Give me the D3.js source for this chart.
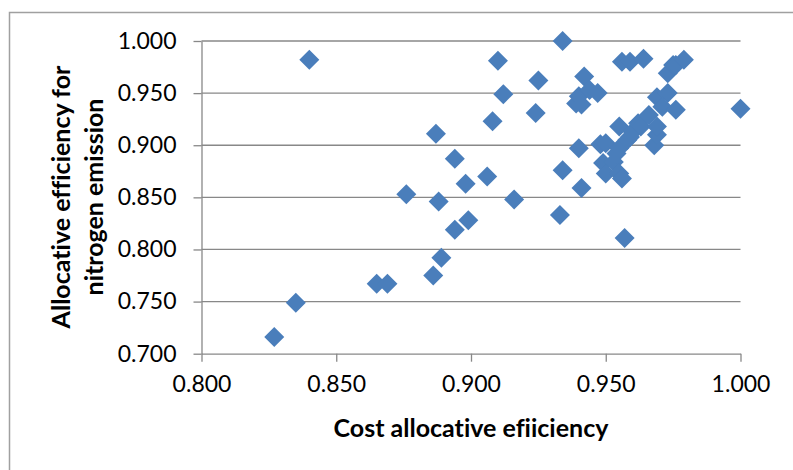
<!DOCTYPE html>
<html>
<head>
<meta charset="utf-8">
<script src="https://cdn.jsdelivr.net/npm/d3@7"></script>
<style>
  body { margin: 0; background: #fff; }
  text { font-family: Lato, "Open Sans", sans-serif; fill: #000; font-variant-ligatures: none; }
</style>
</head>
<body>
<div class="chart-area"></div>
<script>
// Cost allocative efficiency (x) vs allocative efficiency for nitrogen emission (y)
var costAE = [0.827, 0.835, 0.865, 0.869, 0.876, 0.886, 0.889, 0.894, 0.888, 0.899,
    0.898, 0.894, 0.887, 0.840, 0.906, 0.908, 0.910, 0.912, 0.916, 0.924,
    0.925, 0.933, 0.934, 0.934, 0.940, 0.941, 0.942, 0.939, 0.940, 0.941,
    0.944, 0.947, 0.948, 0.950, 0.949, 0.950, 0.953, 0.954, 0.955, 0.956,
    0.957, 0.955, 0.955, 0.958, 0.960, 0.959, 0.962, 0.963, 0.956, 0.959,
    0.964, 0.966, 0.968, 0.969, 0.969, 0.969, 0.973, 0.973, 0.975, 0.976,
    0.979, 0.971, 0.976, 1.000];
var nitrogenAE = [0.716, 0.749, 0.767, 0.767, 0.853, 0.775, 0.792, 0.819, 0.846, 0.828,
    0.863, 0.887, 0.911, 0.982, 0.870, 0.923, 0.981, 0.949, 0.848, 0.931,
    0.962, 0.833, 0.876, 1.000, 0.897, 0.859, 0.966, 0.940, 0.947, 0.939,
    0.953, 0.950, 0.901, 0.902, 0.883, 0.873, 0.884, 0.892, 0.873, 0.868,
    0.811, 0.918, 0.897, 0.905, 0.913, 0.908, 0.921, 0.918, 0.980, 0.980,
    0.983, 0.929, 0.900, 0.910, 0.918, 0.946, 0.950, 0.969, 0.977, 0.977,
    0.982, 0.937, 0.934, 0.935];
var xTicks = [0.80, 0.85, 0.90, 0.95, 1.00];
var yTicks = [0.70, 0.75, 0.80, 0.85, 0.90, 0.95, 1.00];

var points = costAE.map(function(d, i) {
    return { x: d, y: nitrogenAE[i] };
});

var width = 793, height = 470;
var svg = d3.select(".chart-area").append("svg")
    .attr("width", width)
    .attr("height", height);

// outer chart border (only top and left visible in the crop)
svg.append("path")
    .attr("d", "M9.5," + height + "V12.5H" + width)
    .attr("fill", "none")
    .attr("stroke", "#a0a0a0")
    .attr("stroke-width", 1.5);

var x = d3.scaleLinear().domain([0.8, 1.0]).range([201.5, 740.5]);
var y = d3.scaleLinear().domain([0.7, 1.0]).range([353.7, 41]);

// horizontal gridlines
svg.append("g").selectAll("line")
    .data(yTicks.slice(1))
    .enter()
    .append("line")
    .attr("x1", x(0.8))
    .attr("x2", x(1.0))
    .attr("y1", function(d) { return y(d); })
    .attr("y2", function(d) { return y(d); })
    .attr("stroke", "#888")
    .attr("stroke-width", 1.3);

// y axis
var yAxis = svg.append("g")
    .attr("transform", "translate(" + x(0.8) + ",0)")
    .call(d3.axisLeft(y).tickValues(yTicks).tickFormat(d3.format(".3f"))
        .tickSizeInner(8).tickSizeOuter(0).tickPadding(17));

// x axis
var xAxis = svg.append("g")
    .attr("transform", "translate(0," + y(0.7) + ")")
    .call(d3.axisBottom(x).tickValues(xTicks).tickFormat(d3.format(".3f"))
        .tickSizeInner(8).tickSizeOuter(0).tickPadding(14));

[xAxis, yAxis].forEach(function(ax) {
    ax.select(".domain").attr("stroke", "#888").attr("stroke-width", 1.3);
    ax.selectAll(".tick line").attr("stroke", "#888").attr("stroke-width", 1.3);
    ax.selectAll(".tick text")
        .attr("fill", "#000")
        .style("font-size", "23px")
        .style("font-family", "Lato, sans-serif");
});

// diamonds
var diamond = d3.symbol().type(d3.symbolSquare).size(200);
svg.append("g").selectAll("path")
    .data(points)
    .enter()
    .append("path")
    .attr("d", diamond)
    .attr("fill", "#4a7ebb")
    .attr("transform", function(d) {
        return "translate(" + x(d.x) + "," + y(d.y) + ") rotate(45)";
    });

// axis titles
svg.append("text")
    .attr("x", 471)
    .attr("y", 437)
    .attr("text-anchor", "middle")
    .style("font-size", "25px")
    .style("font-weight", "bold")
    .text("Cost allocative efiiciency");

var yTitle = svg.append("text")
    .attr("transform", "translate(0,197) rotate(-90)")
    .attr("text-anchor", "middle")
    .style("font-size", "25px")
    .style("font-weight", "bold");
yTitle.append("tspan").attr("x", 0).attr("y", 70).text("Allocative efficiency for");
yTitle.append("tspan").attr("x", 0).attr("y", 103).text("nitrogen emission");
</script>
</body>
</html>
